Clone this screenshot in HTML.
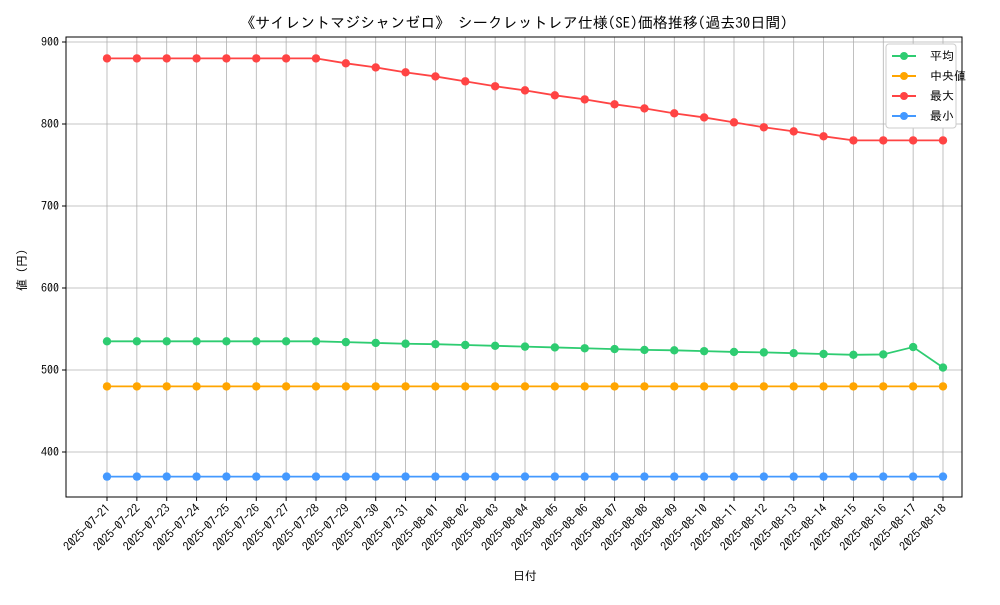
<!DOCTYPE html>
<html><head><meta charset="utf-8"><style>
body{margin:0;background:#fff}
svg text{font-family:"IPAGothic","Liberation Sans","Noto Sans CJK JP",sans-serif;fill:#000}
</style></head><body>
<svg id="chart" width="1000" height="600" xmlns="http://www.w3.org/2000/svg">
<rect width="1000" height="600" fill="#fff"/>
<text x="514" y="28" font-size="15" text-anchor="middle">《サイレントマジシャンゼロ》 シークレットレア仕様(SE)価格推移(過去30日間)</text>
<g id="grid"></g><g id="axes"></g><g id="series"></g>
<text x="525" y="580" font-size="12" text-anchor="middle">日付</text>
<text transform="translate(26,270) rotate(-90)" font-size="12" text-anchor="middle">値 (円)</text>
<g>
<rect x="886" y="44" width="70" height="84" fill="#fff" stroke="#ccc" rx="3"/>
<line x1="892" y1="56" x2="916" y2="56" stroke="#2ecc71" stroke-width="2"/><circle cx="904" cy="56" r="4" fill="#2ecc71"/><text x="930" y="60" font-size="12">平均</text>
<line x1="892" y1="76" x2="916" y2="76" stroke="#ffa500" stroke-width="2"/><circle cx="904" cy="76" r="4" fill="#ffa500"/><text x="930" y="80" font-size="12"> 中央値</text>
<line x1="892" y1="96" x2="916" y2="96" stroke="#ff4444" stroke-width="2"/><circle cx="904" cy="96" r="4" fill="#ff4444"/><text x="930" y="100" font-size="12">最大</text>
<line x1="892" y1="116" x2="916" y2="116" stroke="#4499ff" stroke-width="2"/><circle cx="904" cy="116" r="4" fill="#4499ff"/><text x="930" y="120" font-size="12">最小</text>
</g>
</svg>
<script>
const dates=["2025-07-21","2025-07-22","2025-07-23","2025-07-24","2025-07-25","2025-07-26","2025-07-27","2025-07-28","2025-07-29","2025-07-30","2025-07-31","2025-08-01","2025-08-02","2025-08-03","2025-08-04","2025-08-05","2025-08-06","2025-08-07","2025-08-08","2025-08-09","2025-08-10","2025-08-11","2025-08-12","2025-08-13","2025-08-14","2025-08-15","2025-08-16","2025-08-17","2025-08-18"];
const avgValues=[535,535,535,535,535,535,535,535,534,533,532,531.5,530.5,529.5,528.5,527.5,526.5,525.5,524.5,524,523,522,521.5,520.5,519.5,518.5,519,528,503];
const medianValues=[480,480,480,480,480,480,480,480,480,480,480,480,480,480,480,480,480,480,480,480,480,480,480,480,480,480,480,480,480];
const maxValues=[880,880,880,880,880,880,880,880,874,869,863,858,852,846,841,835,830,824,819,813,808,802,796,791,785,780,780,780,780];
const minValues=[370,370,370,370,370,370,370,370,370,370,370,370,370,370,370,370,370,370,370,370,370,370,370,370,370,370,370,370,370];
const yTicks=[400,500,600,700,800,900];
const NS="http://www.w3.org/2000/svg";
const L=66,R=962,T=37,B=497;
const x=i=>107+i*(943-107)/(dates.length-1);
const y=v=>370-(v-500)*0.82;
function mk(t,a,p){const e=document.createElementNS(NS,t);for(const k in a)e.setAttribute(k,a[k]);p.appendChild(e);return e;}
const grid=document.getElementById('grid'),axes=document.getElementById('axes'),ser=document.getElementById('series');
yTicks.forEach(v=>{
 const g=mk('line',{x1:L,x2:R,y1:y(v),y2:y(v),stroke:'#b0b0b0','stroke-width':0.8},grid);
 
 
 mk('line',{x1:L-4,x2:L,y1:y(v),y2:y(v),stroke:'#000'},axes);
 const t=mk('text',{x:L-7,y:y(v)+4,'font-size':12,'text-anchor':'end'},axes);t.textContent=v;
 
 
});
dates.forEach((d,i)=>{
 const g=mk('line',{x1:x(i),x2:x(i),y1:T,y2:B,stroke:'#b0b0b0','stroke-width':0.8},grid);
 
 
 mk('line',{x1:x(i),x2:x(i),y1:B,y2:B+4,stroke:'#000'},axes);
 const t=mk('text',{transform:`translate(${x(i)+4},${B+12}) rotate(-45)`,'font-size':12,'text-anchor':'end'},axes);t.textContent=d;
 
 
});
const fr=mk('rect',{x:L,y:T,width:R-L,height:B-T,fill:'none',stroke:'#000','stroke-width':1},axes);


[[minValues,'#4499ff','min'],[medianValues,'#ffa500','median'],[avgValues,'#2ecc71','avg'],[maxValues,'#ff4444','max']].forEach(([vals,c,n])=>{
 const p=mk('polyline',{points:vals.map((v,i)=>x(i)+','+y(v)).join(' '),fill:'none',stroke:c,'stroke-width':1.8},ser);
 
 
 vals.forEach((v,i)=>{const e=mk('circle',{cx:x(i),cy:y(v),r:4.2,fill:c},ser);
  
  });
});
</script>
</body></html>
